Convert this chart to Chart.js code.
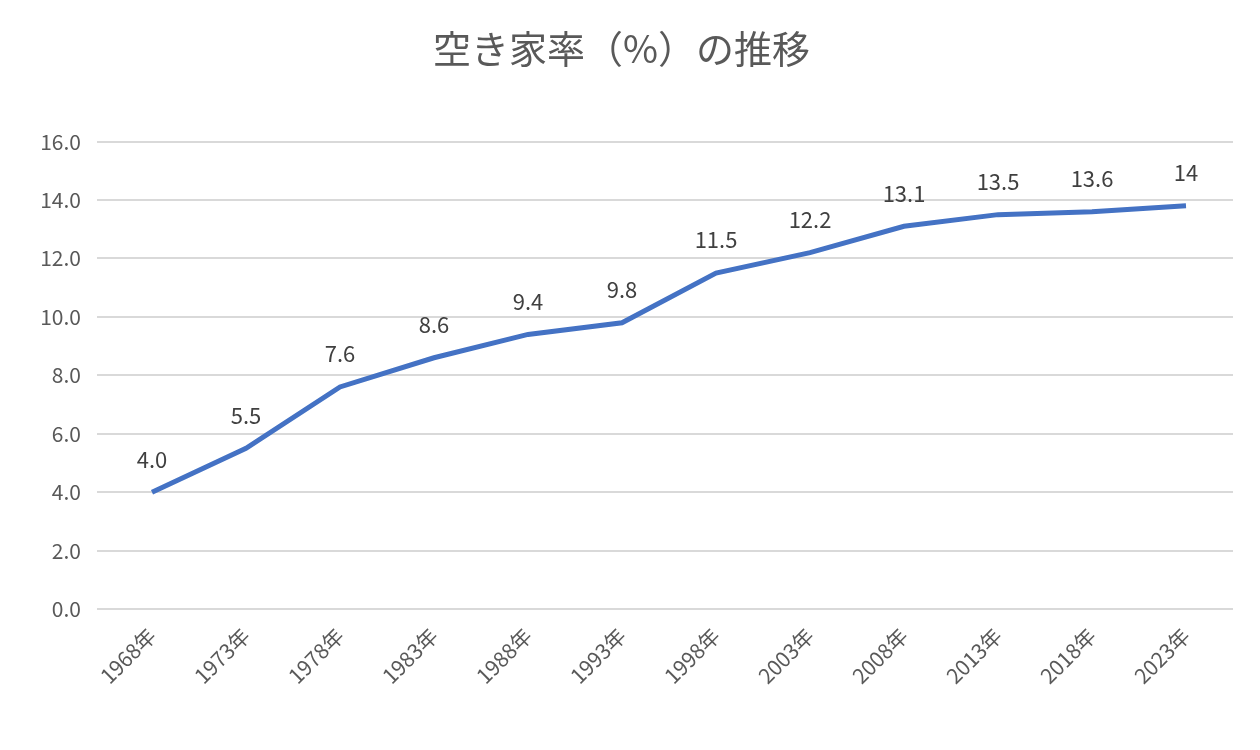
<!DOCTYPE html>
<html><head><meta charset="utf-8">
<script src="https://cdn.jsdelivr.net/npm/chart.js@4/dist/chart.umd.min.js"></script>
<style>html,body{margin:0;background:#fff}#w{width:1260px;height:750px}</style>
</head><body><div id="w"><canvas id="c"></canvas></div>
<script>
const categories=["1968年","1973年","1978年","1983年","1988年","1993年","1998年","2003年","2008年","2013年","2018年","2023年"];
const values=[4.0,5.5,7.6,8.6,9.4,9.8,11.5,12.2,13.1,13.5,13.6,13.8];
const valueLabels=["4.0","5.5","7.6","8.6","9.4","9.8","11.5","12.2","13.1","13.5","13.6","14"];
const FONT='"Noto Sans CJK JP","Noto Sans",sans-serif';
const labelPlugin={id:'lbl',afterDatasetsDraw(chart){
  const ctx=chart.ctx;const meta=chart.getDatasetMeta(0);
  ctx.save();ctx.font='22px '+FONT;ctx.fillStyle='#404040';ctx.textAlign='center';ctx.textBaseline='bottom';
  meta.data.forEach((p,i)=>ctx.fillText(valueLabels[i],p.x,p.y-22));
  ctx.restore();}};
new Chart(document.getElementById('c'),{type:'line',
 data:{labels:categories,datasets:[{data:values,borderColor:'#4472C4',borderWidth:5,pointRadius:0,tension:0,fill:false}]},
 options:{responsive:true,maintainAspectRatio:false,animation:false,
  layout:{padding:{left:10,right:27,top:10,bottom:0}},
  plugins:{legend:{display:false},tooltip:{enabled:false},
   title:{display:true,text:'空き家率（%）の推移',color:'#595959',font:{family:FONT,size:38,weight:'normal'},padding:{top:16,bottom:70}}},
  scales:{
   x:{offset:true,grid:{display:false},border:{display:false},afterFit:s=>{s.height=141;},
      ticks:{color:'#595959',font:{family:FONT,size:21},maxRotation:45,minRotation:45,padding:6}},
   y:{min:0,max:16,afterFit:s=>{s.width=95;},ticks:{stepSize:2,color:'#595959',font:{family:FONT,size:21},callback:v=>v.toFixed(1),padding:16},
      grid:{color:'#d9d9d9',lineWidth:2},border:{display:false}}}}
 ,plugins:[labelPlugin]});
</script></body></html>
